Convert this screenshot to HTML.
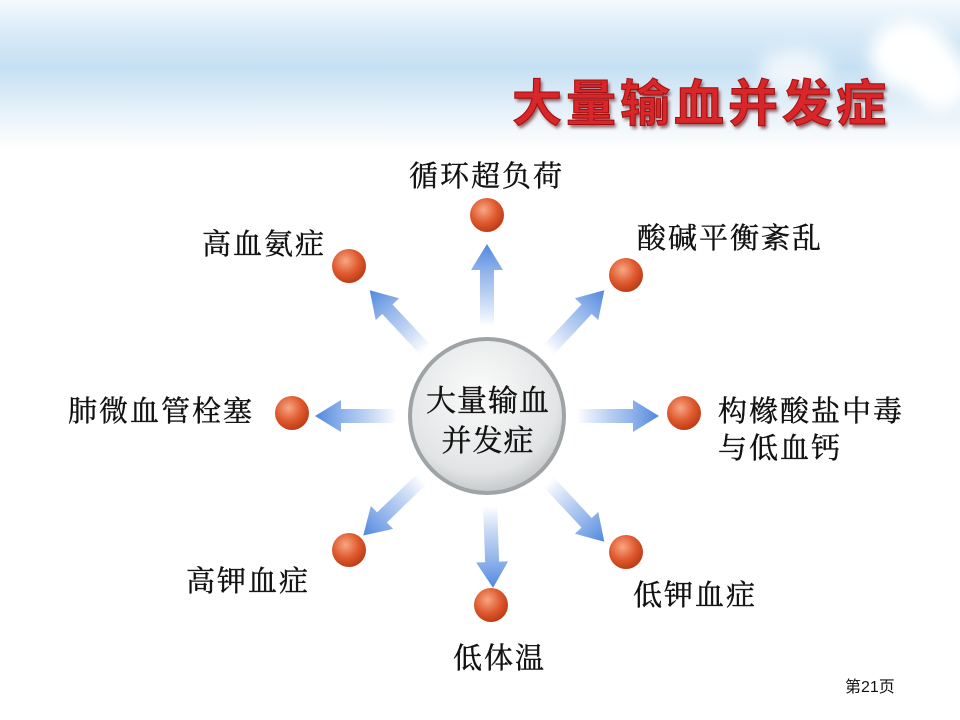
<!DOCTYPE html>
<html><head><meta charset="utf-8"><style>
body{margin:0;width:960px;height:720px;overflow:hidden;background:#fff;font-family:"Liberation Sans","Noto Sans CJK SC",sans-serif;position:relative}
.hdr{position:absolute;left:0;top:0;width:960px;height:150px;background:linear-gradient(180deg,#f4f9fd 0%,#d6e9f7 25%,#c5e0f3 45%,#e4f0f9 72%,#fff 100%)}
.cl{position:absolute;border-radius:50%;background:#fff;filter:blur(8px)}
.title{position:absolute;left:512px;top:64px;font-size:50px;font-weight:bold;color:#d8262a;letter-spacing:4px;font-family:"Noto Sans CJK SC",sans-serif;text-shadow:2px 3px 3px rgba(80,0,0,.6);-webkit-text-stroke:1px #a01010}
.l{position:absolute;font-size:29px;letter-spacing:2px;color:#111;font-family:"Noto Serif CJK SC","Noto Sans CJK SC",serif;line-height:37px;white-space:nowrap;-webkit-text-stroke:0.4px #111}
</style></head><body>
<div class="hdr"></div>
<div class="cl" style="left:870px;top:20px;width:80px;height:70px"></div>
<div class="cl" style="left:910px;top:50px;width:60px;height:60px"></div>
<div class="cl" style="left:760px;top:50px;width:70px;height:40px;opacity:.7"></div>
<div class="title">大量输血并发症</div>
<svg width="960" height="720" style="position:absolute;left:0;top:0">
<defs>
<linearGradient id="ag" x1="0" y1="0" x2="1" y2="0"><stop offset="0" stop-color="#5b8fe0" stop-opacity="0"/><stop offset=".6" stop-color="#6f9de4" stop-opacity=".7"/><stop offset="1" stop-color="#4f86de"/></linearGradient>
<radialGradient id="bg" cx=".4" cy=".35" r=".7"><stop offset="0" stop-color="#f6a783"/><stop offset=".55" stop-color="#e05a30"/><stop offset="1" stop-color="#b83810"/></radialGradient>
<radialGradient id="cg" cx=".45" cy=".35" r=".75"><stop offset="0" stop-color="#fbfbfb"/><stop offset=".7" stop-color="#e2e4e5"/><stop offset="1" stop-color="#b4b8ba"/></radialGradient>
<g id="ar"><polygon points="90,-7 146,-7 146,-16 172,0 146,16 146,7 90,7" fill="url(#ag)"/></g>
</defs>
<g transform="translate(487,416)">
<use href="#ar" transform="rotate(0)"/>
<use href="#ar" transform="rotate(-90)"/>
<use href="#ar" transform="rotate(-47)"/>
<use href="#ar" transform="rotate(-133)"/>
<use href="#ar" transform="rotate(180)"/>
<use href="#ar" transform="rotate(47)"/>
<use href="#ar" transform="rotate(88)"/>
<use href="#ar" transform="rotate(136)"/>
<circle r="79" fill="#9ea3a6"/>
<circle r="75" fill="url(#cg)"/>
</g>
<g fill="url(#bg)">
<circle cx="487" cy="215" r="17"/><circle cx="626" cy="275" r="17"/><circle cx="684" cy="413" r="17"/><circle cx="626" cy="552" r="17"/>
<circle cx="491" cy="605" r="17"/><circle cx="349" cy="550" r="17"/><circle cx="292" cy="413" r="17"/><circle cx="349" cy="266" r="17"/>
</g>
</svg>
<div class="l" style="left:421px;top:378px;font-size:30px;line-height:40px;text-align:center;width:134px;letter-spacing:1px">大量输血<br>并发症</div>
<div class="l" style="left:409px;top:156px">循环超负荷</div>
<div class="l" style="left:202px;top:224px">高血氨症</div>
<div class="l" style="left:637px;top:218px">酸碱平衡紊乱</div>
<div class="l" style="left:68px;top:391px">肺微血管栓塞</div>
<div class="l" style="left:718px;top:391px">构橼酸盐中毒<br>与低血钙</div>
<div class="l" style="left:186px;top:561px">高钾血症</div>
<div class="l" style="left:633px;top:575px">低钾血症</div>
<div class="l" style="left:453px;top:638px">低体温</div>
<div class="l" style="left:845px;top:677px;font-size:16px;line-height:22px;letter-spacing:0;-webkit-text-stroke:0;font-family:'Liberation Sans','Noto Sans CJK SC',sans-serif">第21页</div>
</body></html>
